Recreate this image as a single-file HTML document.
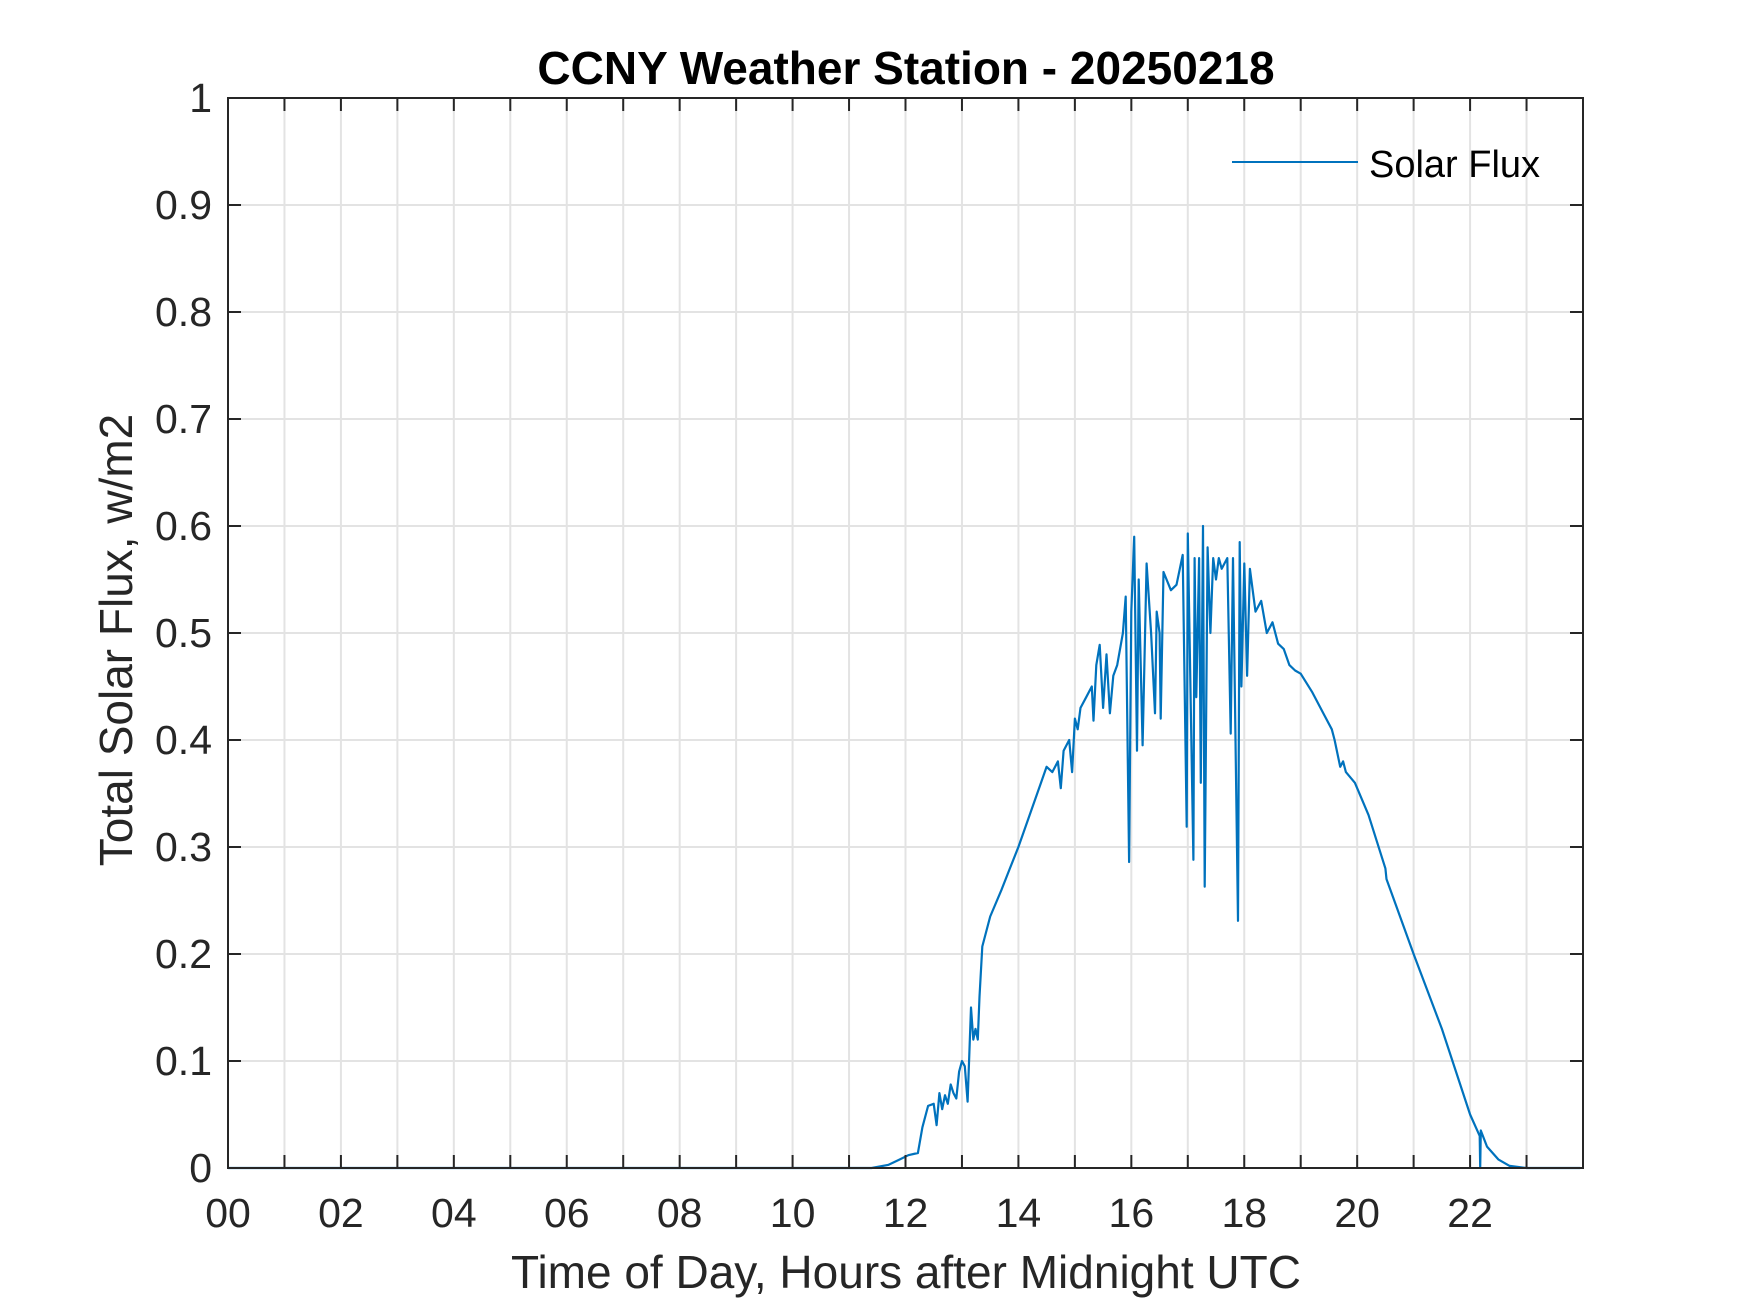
<!DOCTYPE html>
<html><head><meta charset="utf-8"><style>
html,body{margin:0;padding:0;background:#fff;}
svg{display:block;font-family:"Liberation Sans",Arial,sans-serif;}
</style></head><body>
<svg id="chart" width="1750" height="1313" viewBox="0 0 1750 1313">
<rect x="0" y="0" width="1750" height="1313" fill="#fff"/>
<g id="grid"></g>
<g id="series"></g>
<g id="axes"></g>
<text x="906" y="84" text-anchor="middle" font-size="46" font-weight="bold" fill="#000">CCNY Weather Station - 20250218</text>
<text x="906" y="1288" text-anchor="middle" font-size="46" fill="#262626">Time of Day, Hours after Midnight UTC</text>
<text transform="translate(132,640) rotate(-90)" text-anchor="middle" font-size="46" fill="#262626">Total Solar Flux, w/m2</text>
<g>
<line x1="1232" y1="162" x2="1358" y2="162" stroke="#0072BD" stroke-width="2"/>
<text x="1369" y="177" font-size="38" fill="#000">Solar Flux</text>
</g>
</svg>
<script>
const hours = [0,11.4,11.7,11.9,12.05,12.22,12.3,12.4,12.5,12.55,12.6,12.65,12.7,12.75,12.8,12.85,12.9,12.95,13.0,13.05,13.1,13.16,13.2,13.24,13.28,13.31,13.36,13.5,13.7,13.85,14.0,14.2,14.4,14.5,14.6,14.7,14.75,14.8,14.9,14.95,15.0,15.05,15.1,15.2,15.3,15.33,15.38,15.44,15.5,15.56,15.62,15.68,15.75,15.85,15.9,15.96,16.0,16.05,16.1,16.13,16.2,16.27,16.35,16.42,16.45,16.5,16.52,16.57,16.7,16.8,16.91,16.98,17.0,17.1,17.12,17.15,17.2,17.23,17.27,17.3,17.35,17.4,17.45,17.5,17.55,17.6,17.7,17.76,17.8,17.89,17.92,17.95,18.0,18.05,18.1,18.2,18.3,18.4,18.5,18.6,18.7,18.8,18.9,19.0,19.2,19.4,19.55,19.6,19.7,19.75,19.8,19.96,20.2,20.5,20.52,21.0,21.5,22.0,22.17,22.18,22.19,22.3,22.5,22.7,23.0,23.95];
const flux = [0,0,0.003,0.008,0.012,0.014,0.038,0.058,0.06,0.04,0.07,0.055,0.068,0.06,0.078,0.07,0.065,0.09,0.1,0.095,0.062,0.15,0.12,0.13,0.12,0.16,0.207,0.235,0.26,0.28,0.30,0.33,0.36,0.375,0.37,0.38,0.355,0.39,0.40,0.37,0.42,0.41,0.43,0.44,0.45,0.418,0.47,0.489,0.43,0.48,0.425,0.46,0.47,0.50,0.534,0.286,0.52,0.59,0.39,0.55,0.395,0.565,0.50,0.425,0.52,0.50,0.42,0.557,0.54,0.545,0.573,0.319,0.593,0.288,0.57,0.44,0.57,0.36,0.60,0.263,0.58,0.50,0.57,0.55,0.57,0.56,0.57,0.406,0.57,0.231,0.585,0.45,0.565,0.46,0.56,0.52,0.53,0.50,0.51,0.49,0.485,0.47,0.465,0.462,0.445,0.425,0.41,0.40,0.375,0.38,0.37,0.36,0.33,0.28,0.27,0.20,0.13,0.05,0.03,0.0,0.035,0.02,0.008,0.002,0,0];
const xTickLabels = ['00','02','04','06','08','10','12','14','16','18','20','22'];
const yTickLabels = ['0','0.1','0.2','0.3','0.4','0.5','0.6','0.7','0.8','0.9','1'];

const NS='http://www.w3.org/2000/svg';
const L=228,R=1583,T=98,B=1168;
const xs=h=>L+(R-L)*h/24;
const ys=v=>B-(B-T)*v/1;
function mk(tag,attrs,parent){const e=document.createElementNS(NS,tag);for(const k in attrs)e.setAttribute(k,attrs[k]);parent.appendChild(e);return e;}
const grid=document.getElementById('grid'),axes=document.getElementById('axes'),series=document.getElementById('series');
for(let h=1;h<24;h++){
  const g=mk('line',{x1:xs(h),x2:xs(h),y1:T,y2:B,stroke:'#e3e3e3','stroke-width':2},grid);
  
  
  const t1=mk('line',{x1:xs(h),x2:xs(h),y1:B,y2:B-13,stroke:'#262626','stroke-width':2},axes);
  
  
  const t2=mk('line',{x1:xs(h),x2:xs(h),y1:T,y2:T+13,stroke:'#262626','stroke-width':2},axes);
  
  
}
yTickLabels.forEach((lab,i)=>{
  const v=parseFloat(lab),y=ys(v);
  if(i>0&&i<yTickLabels.length-1){
    const g=mk('line',{x1:L,x2:R,y1:y,y2:y,stroke:'#e3e3e3','stroke-width':2},grid);
    
    
  }
  const t1=mk('line',{x1:L,x2:L+13,y1:y,y2:y,stroke:'#262626','stroke-width':2},axes);
  
  
  const t2=mk('line',{x1:R,x2:R-13,y1:y,y2:y,stroke:'#262626','stroke-width':2},axes);
  
  
  const tx=mk('text',{x:212,y:y+14,'text-anchor':'end','font-size':41,fill:'#262626'},axes);
  tx.textContent=lab;
  
  
});
xTickLabels.forEach(lab=>{
  const h=parseInt(lab,10);
  const tx=mk('text',{x:xs(h),y:1227,'text-anchor':'middle','font-size':41,fill:'#262626'},axes);
  tx.textContent=lab;
  
  
});
const box=mk('rect',{x:L,y:T,width:R-L,height:B-T,fill:'none',stroke:'#262626','stroke-width':2},axes);


const pts=hours.map((h,i)=>xs(h).toFixed(1)+','+ys(flux[i]).toFixed(1)).join(' ');
const line=mk('polyline',{points:pts,fill:'none',stroke:'#0072BD','stroke-width':2.2,'stroke-linejoin':'round'},series);


</script>
</body></html>
